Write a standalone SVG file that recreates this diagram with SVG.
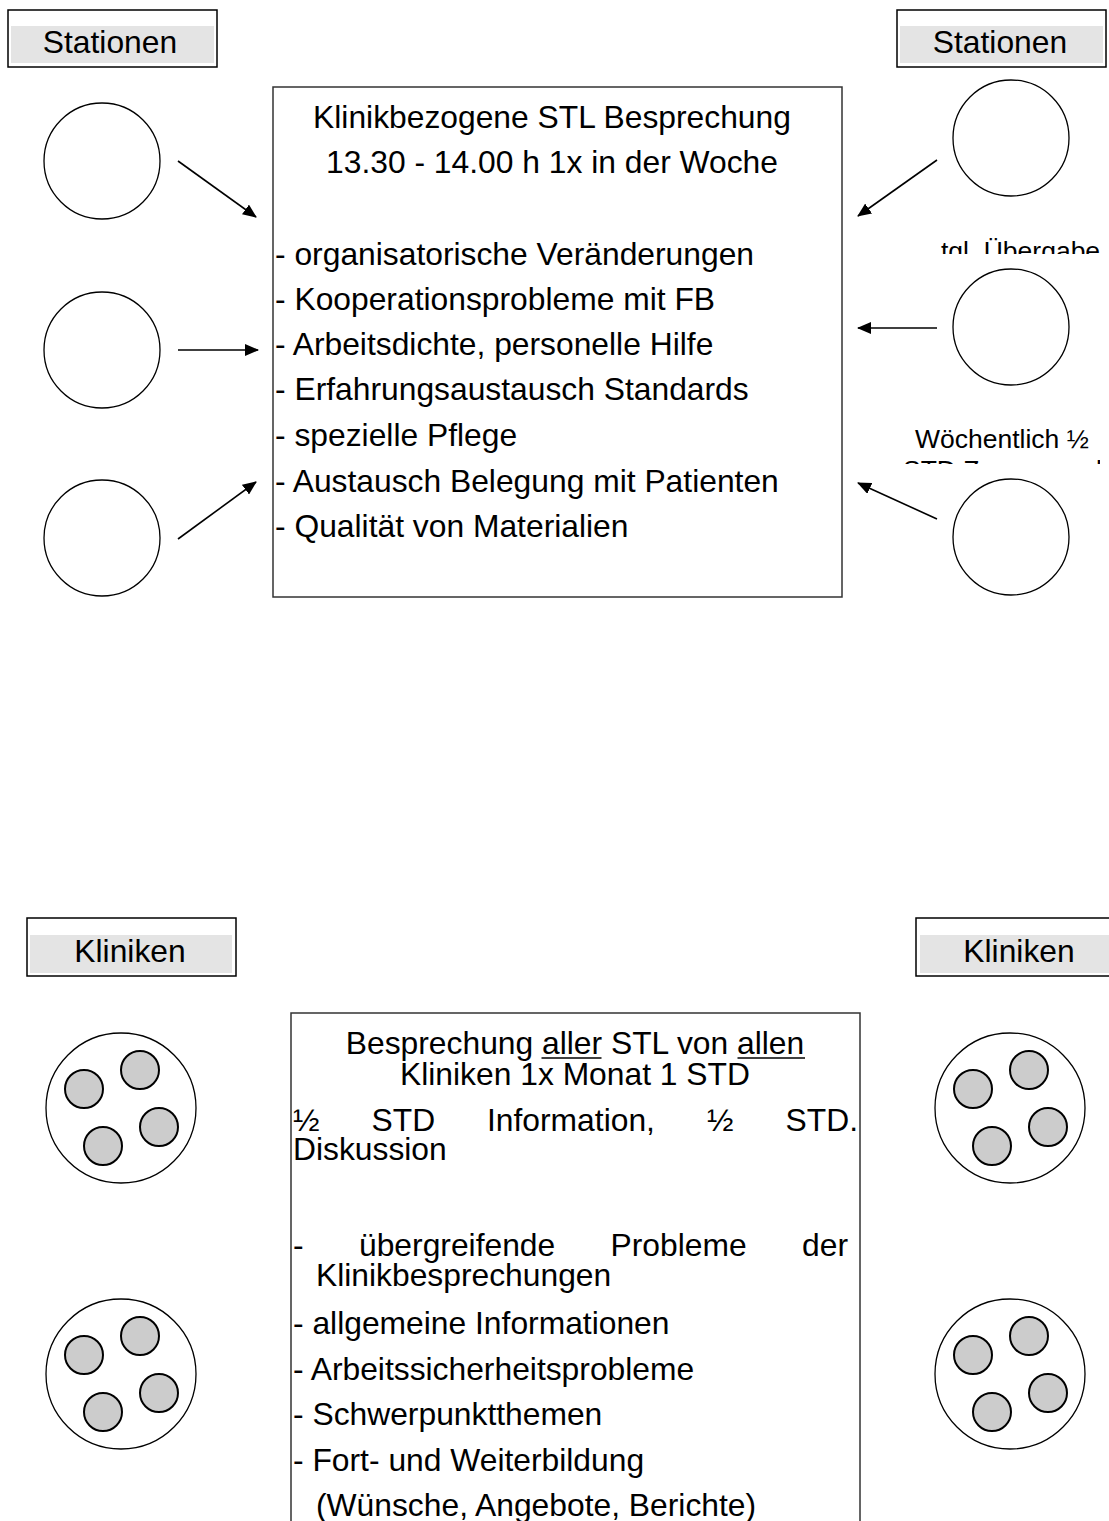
<svg xmlns="http://www.w3.org/2000/svg" width="1109" height="1521" viewBox="0 0 1109 1521">
  <style>
    text { font-family: "Liberation Sans", Arial, sans-serif; fill: #000; }
    .t { font-size: 31.8px; }
    .s { font-size: 26.5px; }
    .mid { text-anchor: middle; }
    .end { text-anchor: end; }
    .frame { fill: #fff; stroke: #000; stroke-width: 1.5; }
    .band { fill: #e4e4e4; stroke: none; }
    .box { fill: #fff; stroke: #333; stroke-width: 1.5; }
    .ring { fill: #fff; stroke: #000; stroke-width: 1.3; }
    .dot { fill: #cccccc; stroke: #000; stroke-width: 2; }
    .arrow { stroke: #000; stroke-width: 1.6; fill: none; marker-end: url(#head); }
    .ul { stroke: #000; stroke-width: 1.5; }
  </style>
  <defs>
    <marker id="head" markerUnits="userSpaceOnUse" markerWidth="14" markerHeight="12" refX="13" refY="6" orient="auto">
      <path d="M0,0 L14,6 L0,12 z" fill="#000"/>
    </marker>
    <clipPath id="clipDaily"><rect x="900" y="225" width="205" height="29"/></clipPath>
    <clipPath id="clipWeekly"><rect x="880" y="415" width="220" height="49"/></clipPath>
    <!-- one clinic: ring holding four stations -->
    <g id="clinic">
      <circle class="ring" cx="0" cy="0" r="75"/>
      <circle class="dot" cx="-37" cy="-19" r="19"/>
      <circle class="dot" cx="19" cy="-38" r="19"/>
      <circle class="dot" cx="38" cy="19" r="19"/>
      <circle class="dot" cx="-18" cy="38" r="19"/>
    </g>
  </defs>

  <rect width="1109" height="1521" fill="#fff"/>

  <!-- headers -->
  <g id="stationen-left">
    <rect class="frame" x="8" y="10" width="209" height="57"/>
    <rect class="band" x="11" y="26" width="203" height="37"/>
    <text class="t mid" x="110" y="53">Stationen</text>
  </g>
  <g id="stationen-right">
    <rect class="frame" x="897" y="10" width="209" height="57"/>
    <rect class="band" x="900" y="26" width="203" height="37"/>
    <text class="t mid" x="1000" y="53">Stationen</text>
  </g>

  <!-- weekly ward-lead meeting -->
  <g id="stl-meeting">
    <rect class="box" x="273" y="87" width="569" height="510"/>
    <text class="t mid" x="552" y="128">Klinikbezogene STL Besprechung</text>
    <text class="t mid" x="552" y="173">13.30 - 14.00 h 1x in der Woche</text>
    <text class="t" x="275" y="265">- organisatorische Veränderungen</text>
    <text class="t" x="275" y="310">- Kooperationsprobleme mit FB</text>
    <text class="t" x="275" y="355">- Arbeitsdichte, personelle Hilfe</text>
    <text class="t" x="275" y="400">- Erfahrungsaustausch Standards</text>
    <text class="t" x="275" y="446">- spezielle Pflege</text>
    <text class="t" x="275" y="492">- Austausch Belegung mit Patienten</text>
    <text class="t" x="275" y="537">- Qualität von Materialien</text>
  </g>

  <!-- stations -->
  <g id="station-l1"><circle class="ring" cx="102" cy="161" r="58"/></g>
  <g id="station-l2"><circle class="ring" cx="102" cy="350" r="58"/></g>
  <g id="station-l3"><circle class="ring" cx="102" cy="538" r="58"/></g>
  <g id="station-r1"><circle class="ring" cx="1011" cy="138" r="58"/></g>
  <g id="station-r2"><circle class="ring" cx="1011" cy="327" r="58"/></g>
  <g id="station-r3"><circle class="ring" cx="1011" cy="537" r="58"/></g>

  <!-- side notes, cut off by their frames -->
  <g id="note-daily" clip-path="url(#clipDaily)">
    <text class="s" x="941" y="260">tgl. Übergabe</text>
  </g>
  <g id="note-weekly" clip-path="url(#clipWeekly)">
    <text class="s" x="915" y="448">Wöchentlich ½</text>
    <text class="s" x="903" y="479">STD Zusammenkunft</text>
  </g>

  <!-- connectors -->
  <g id="connectors">
    <line class="arrow" x1="178" y1="161" x2="256" y2="217"/>
    <line class="arrow" x1="178" y1="350" x2="258" y2="350"/>
    <line class="arrow" x1="178" y1="539" x2="256" y2="482"/>
    <line class="arrow" x1="937" y1="160" x2="858" y2="216"/>
    <line class="arrow" x1="937" y1="328" x2="858" y2="328"/>
    <line class="arrow" x1="937" y1="519" x2="858" y2="483"/>
  </g>

  <!-- lower part: clinics -->
  <g id="kliniken-left">
    <rect class="frame" x="27" y="918" width="209" height="58"/>
    <rect class="band" x="30" y="935" width="202" height="38"/>
    <text class="t mid" x="130" y="962">Kliniken</text>
  </g>
  <g id="kliniken-right">
    <rect class="frame" x="916" y="918" width="209" height="58"/>
    <rect class="band" x="920" y="935" width="202" height="38"/>
    <text class="t mid" x="1019" y="962">Kliniken</text>
  </g>

  <g id="clinic-l1"><use href="#clinic" x="121" y="1108"/></g>
  <g id="clinic-l2"><use href="#clinic" x="121" y="1374"/></g>
  <g id="clinic-r1"><use href="#clinic" x="1010" y="1108"/></g>
  <g id="clinic-r2"><use href="#clinic" x="1010" y="1374"/></g>

  <!-- monthly meeting of all ward leads -->
  <g id="all-meeting">
    <rect class="box" x="291" y="1013" width="569" height="520"/>
    <text class="t mid" x="575" y="1054">Besprechung aller STL von allen</text>
    <line class="ul" x1="541.5" y1="1058" x2="601.5" y2="1058"/>
    <line class="ul" x1="737.5" y1="1058" x2="805" y2="1058"/>
    <text class="t mid" x="575" y="1085">Kliniken 1x Monat 1 STD</text>
    <text class="t" x="293" y="1131">½</text>
    <text class="t" x="371.5" y="1131">STD</text>
    <text class="t" x="487" y="1131">Information,</text>
    <text class="t" x="707" y="1131">½</text>
    <text class="t end" x="858" y="1131">STD.</text>
    <text class="t" x="293" y="1160">Diskussion</text>
    <text class="t" x="293" y="1256">-</text>
    <text class="t" x="359" y="1256">übergreifende</text>
    <text class="t" x="610.5" y="1256">Probleme</text>
    <text class="t end" x="848" y="1256">der</text>
    <text class="t" x="316" y="1286">Klinikbesprechungen</text>
    <text class="t" x="293" y="1334">- allgemeine Informationen</text>
    <text class="t" x="293" y="1380">- Arbeitssicherheitsprobleme</text>
    <text class="t" x="293" y="1425">- Schwerpunktthemen</text>
    <text class="t" x="293" y="1471">- Fort- und Weiterbildung</text>
    <text class="t" x="316" y="1516">(Wünsche, Angebote, Berichte)</text>
  </g>
</svg>
